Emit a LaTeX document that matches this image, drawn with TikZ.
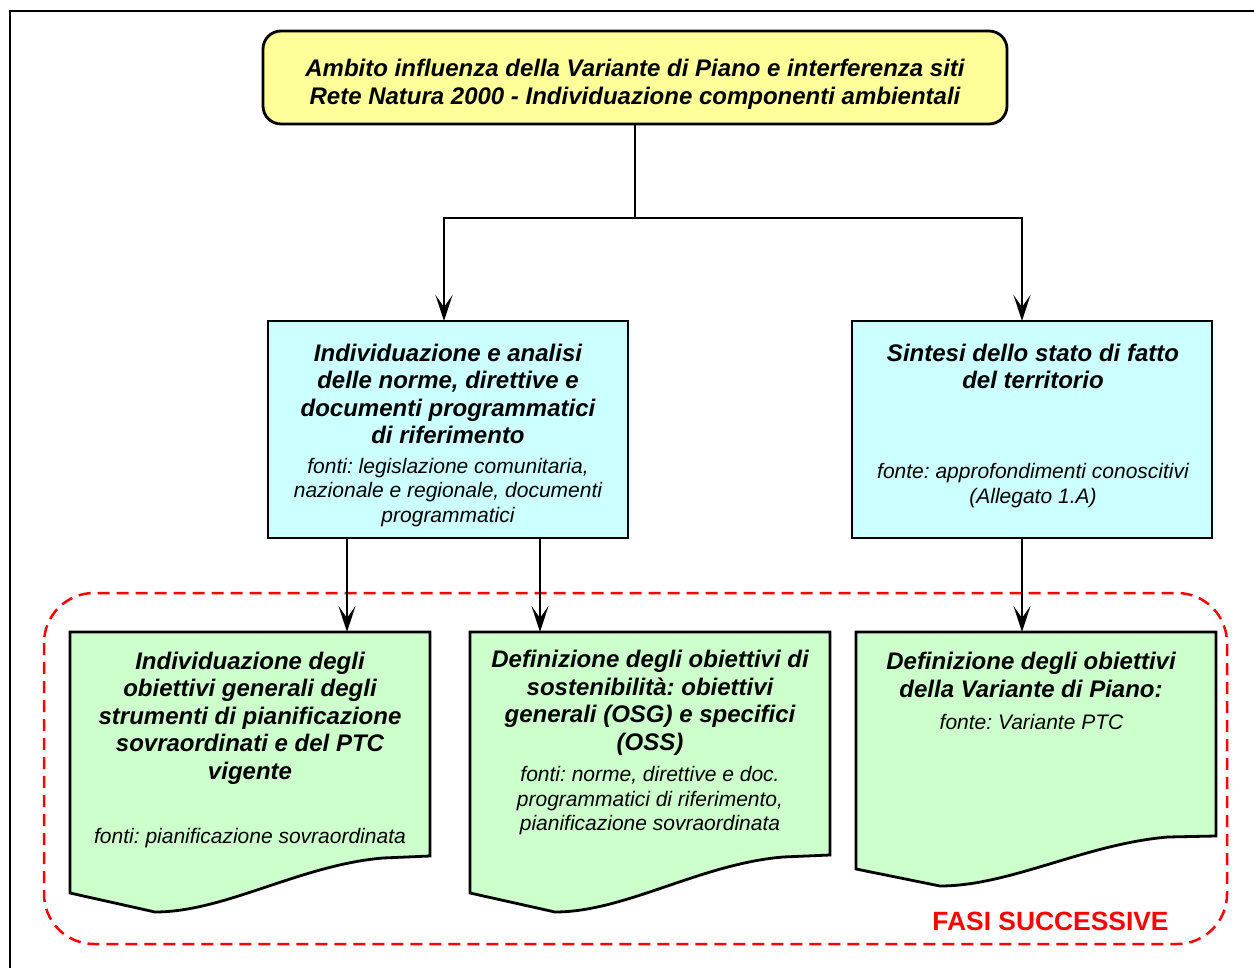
\documentclass[tikz,border=0pt]{standalone}
\usepackage{fontspec}
\setmainfont{Liberation Sans}
\usetikzlibrary{arrows.meta,calc}
\frenchspacing

\definecolor{boxyellow}{HTML}{FFFF99}
\definecolor{boxcyan}{HTML}{CCFFFF}
\definecolor{boxgreen}{HTML}{CCFFCC}
\definecolor{phasered}{HTML}{FF0000}

\tikzset{
  headtext/.style={font=\fontsize{24}{28}\selectfont\bfseries\itshape, align=center, inner sep=0pt},
  titletext/.style={font=\fontsize{24}{27.5}\selectfont\bfseries\itshape, align=center, inner sep=0pt},
  srctext/.style={font=\fontsize{21}{24.5}\selectfont\itshape, align=center, inner sep=0pt},
  topbox/.style={draw, line width=2.8pt, fill=boxyellow, rounded corners=18pt,
                 minimum width=744pt, minimum height=93pt, inner sep=0pt},
  stagebox/.style={draw, line width=2.8pt, fill=boxcyan,
                   minimum width=360pt, minimum height=217pt, inner sep=0pt},
  docshape/.style={draw, line width=2.8pt, fill=boxgreen, line join=miter},
  link/.style={draw, line width=2.8pt},
  arr/.style={link, -{Stealth[length=26pt, width=17pt, inset=12pt]}},
  phase/.style={draw=phasered, line width=2.5pt, dash pattern=on 12pt off 7pt,
                rounded corners=50pt},
  phaselabel/.style={font=\fontsize{26.4}{30}\selectfont\bfseries, text=phasered, inner sep=0pt},
  frameline/.style={draw, line width=1.3pt}
}

\begin{document}
\begin{tikzpicture}[x=1pt, y=-1pt]
  \useasboundingbox (0,0) rectangle (1254,968);

  % page frame
  \draw[frameline] (1254,11) -- (10,11) -- (10,968);

  % dashed area of the later phases
  \draw[phase] (44,593) rectangle (1227,944);
  \node[phaselabel] (fasi) at (1050.5,921) {FASI SUCCESSIVE};

  % top box
  \node[topbox] (top) at (635,77.5) {};
  \node[headtext] (toptext) at (635,84) {Ambito influenza della Variante di Piano e interferenza siti\\Rete Natura 2000 - Individuazione componenti ambientali};

  % middle boxes
  \node[stagebox] (cl) at (448,429.5) {};
  \node[titletext] (cltitle) at (448,394) {Individuazione e analisi\\delle norme, direttive e\\documenti programmatici\\di riferimento};
  \node[srctext] (clsrc) at (448,492.5) {fonti: legislazione comunitaria,\\nazionale e regionale, documenti\\programmatici};

  \node[stagebox] (cr) at (1032,429.5) {};
  \node[titletext] (crtitle) at (1033,366.5) {Sintesi dello stato di fatto\\del territorio};
  \node[srctext] (crsrc) at (1033,485.5) {fonte: approfondimenti conoscitivi\\(Allegato 1.A)};

  % document shapes
  \draw[docshape] (70,632) -- (430,632) -- (430,856) -- (383,858)
    .. controls (300,865) and (225,912) .. (155,912) -- (70,893) -- cycle;
  \draw[docshape] (470,632) -- (830,632) -- (830,855) -- (783,857)
    .. controls (700,864) and (625,912) .. (555,912) -- (470,893) -- cycle;
  \draw[docshape] (856,632) -- (1216,632) -- (1216,836) -- (1168,837)
    .. controls (1085,844) and (1010,886) .. (940,886) -- (856,869) -- cycle;

  \node[titletext] (d1title) at (250,718) {Individuazione degli\\obiettivi generali degli\\strumenti di pianificazione\\sovraordinati e del PTC\\vigente};
  \node[srctext] (d1src) at (250,838) {fonti: pianificazione sovraordinata};

  \node[titletext] (d2title) at (650,703) {Definizione degli obiettivi di\\sostenibilità: obiettivi\\generali (OSG) e specifici\\(OSS)};
  \node[srctext] (d2src) at (650,801) {fonti: norme, direttive e doc.\\programmatici di riferimento,\\pianificazione sovraordinata};

  \node[titletext] (d3title) at (1031,675) {Definizione degli obiettivi\\della Variante di Piano:};
  \node[srctext] (d3src) at (1031.5,721.5) {fonte: Variante PTC};

  % connector end points
  \coordinate (split) at (635,218);
  \coordinate (clin) at (444,321);
  \coordinate (crin) at (1022,321);
  \coordinate (d1in) at (347,632);
  \coordinate (d2in) at (540,632);
  \coordinate (d3in) at (1022,632);

  % connectors
  \draw[link] (top.south) -- (split);
  \draw[arr] (split) -| (clin);
  \draw[arr] (split) -| (crin);
  \draw[arr] (cl.south -| d1in) -- (d1in);
  \draw[arr] (cl.south -| d2in) -- (d2in);
  \draw[arr] (cr.south -| d3in) -- (d3in);
\end{tikzpicture}
\end{document}
